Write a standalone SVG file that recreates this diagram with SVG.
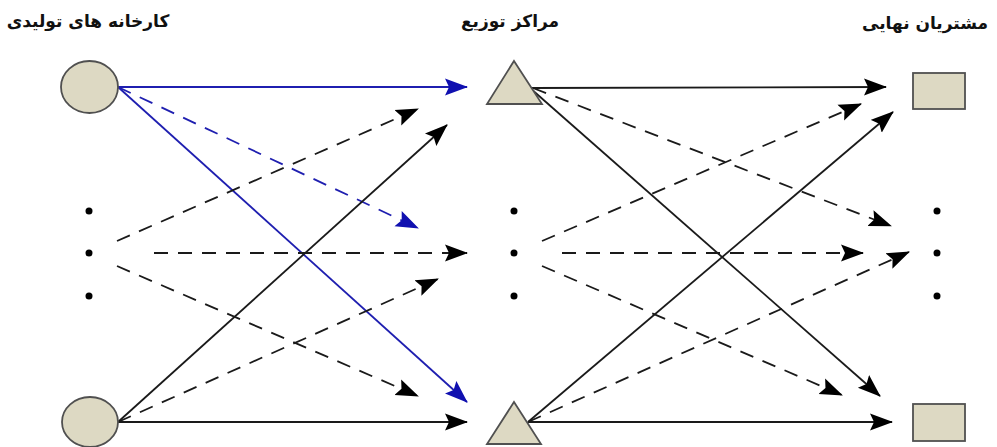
<svg xmlns="http://www.w3.org/2000/svg" width="997" height="447" viewBox="0 0 997 447">
<style>
.lbl{font-family:"DejaVu Sans",sans-serif;font-weight:bold;font-size:17px;fill:#111;text-anchor:middle}
.node{fill:#ddd9c3;stroke:#505050;stroke-width:1.8}
.k{stroke:#1a1a1a;stroke-width:1.8;fill:none;marker-end:url(#ak)}
.b{stroke:#1f1fb0;stroke-width:1.8;fill:none;marker-end:url(#ab)}
.d{stroke-dasharray:14 10}
.dot{fill:#000}
</style>
<defs>
<marker id="ak" markerUnits="userSpaceOnUse" markerWidth="23" markerHeight="19" refX="22" refY="8.5" orient="auto" viewBox="0 0 23 17"><path d="M0,0 L23,8.5 L0,17 L4,8.5 z" fill="#000"/></marker>
<marker id="ab" markerUnits="userSpaceOnUse" markerWidth="23" markerHeight="19" refX="22" refY="8.5" orient="auto" viewBox="0 0 23 17"><path d="M0,0 L23,8.5 L0,17 L4,8.5 z" fill="#1010b0"/></marker>
</defs>
<g id="labels">
<text class="lbl" x="88" y="27" direction="rtl">کارخانه های تولیدی</text>
<text class="lbl" x="510" y="27" direction="rtl">مراکز توزیع</text>
<text class="lbl" x="925" y="29" direction="rtl">مشتریان نهایی</text>
</g>
<g id="connectors">
<line class="b" x1="118" y1="87" x2="467" y2="87"/>
<line class="b d" x1="118" y1="87" x2="418" y2="228"/>
<line class="b" x1="118" y1="87" x2="467" y2="402"/>
<line class="k d" x1="117" y1="241" x2="418" y2="109"/>
<line class="k" x1="118" y1="422" x2="447" y2="125"/>
<line class="k d" x1="154" y1="253" x2="467" y2="253"/>
<line class="k d" x1="117" y1="266" x2="418" y2="396"/>
<line class="k d" x1="118" y1="422" x2="438" y2="279"/>
<line class="k" x1="118" y1="422" x2="467" y2="422"/>
<line class="k" x1="530" y1="88" x2="886" y2="87"/>
<line class="k d" x1="533" y1="88" x2="891" y2="226"/>
<line class="k" x1="530" y1="88" x2="880" y2="396"/>
<line class="k d" x1="542" y1="241" x2="861" y2="104"/>
<line class="k" x1="528" y1="422" x2="893" y2="112"/>
<line class="k d" x1="562" y1="253" x2="863" y2="253"/>
<line class="k d" x1="542" y1="266" x2="842" y2="395"/>
<line class="k d" x1="528" y1="422" x2="909" y2="252"/>
<line class="k" x1="528" y1="422" x2="892" y2="422"/>
</g>
<g id="factory1"><ellipse class="node" cx="89.5" cy="87" rx="28.5" ry="26"/></g>
<g id="factory2"><ellipse class="node" cx="90" cy="422" rx="28" ry="25"/></g>
<g id="dc1"><polygon class="node" points="514,61 542,104 487,104"/></g>
<g id="dc2"><polygon class="node" points="514,402 541,444 487,444"/></g>
<g id="customer1"><rect class="node" x="913" y="73" width="52" height="36"/></g>
<g id="customer2"><rect class="node" x="913" y="404" width="52" height="37"/></g>
<g id="dots">
<circle class="dot" cx="89" cy="211" r="3.5"/><circle class="dot" cx="89" cy="253" r="3.5"/><circle class="dot" cx="89" cy="296" r="3.5"/>
<circle class="dot" cx="514" cy="211" r="3.5"/><circle class="dot" cx="514" cy="253" r="3.5"/><circle class="dot" cx="514" cy="296" r="3.5"/>
<circle class="dot" cx="937" cy="211" r="3.5"/><circle class="dot" cx="937" cy="253" r="3.5"/><circle class="dot" cx="937" cy="296" r="3.5"/>
</g>
</svg>
